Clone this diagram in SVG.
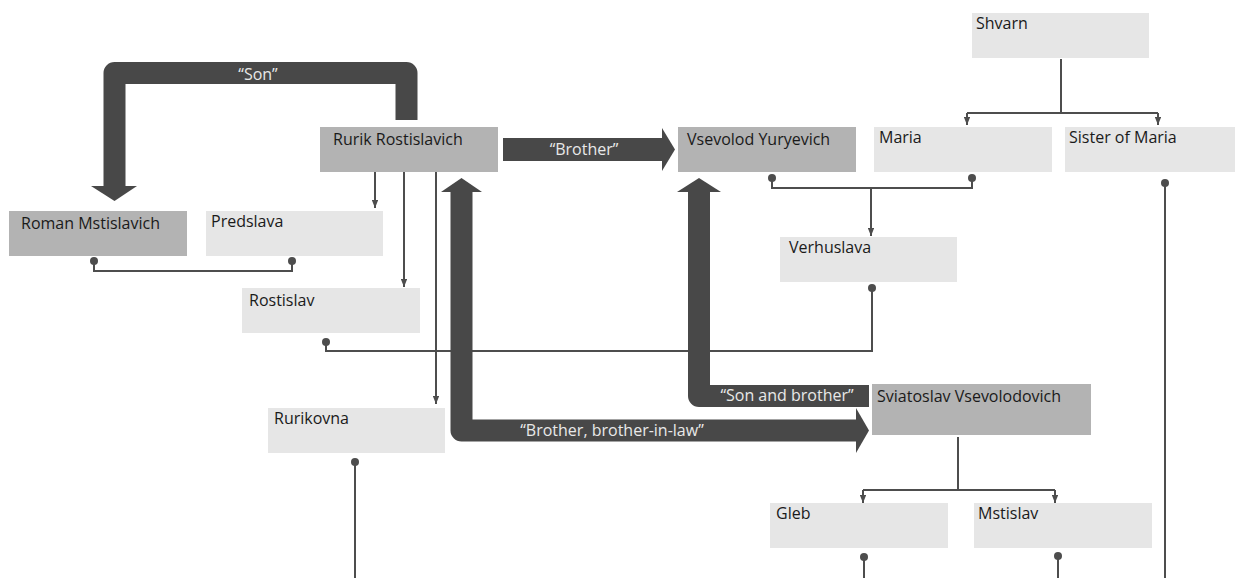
<svg xmlns="http://www.w3.org/2000/svg" width="1235" height="578" viewBox="0 0 1235 578">
<defs>
<marker id="ah" viewBox="0 0 10 8" refX="10" refY="4" markerWidth="8" markerHeight="6.4" markerUnits="userSpaceOnUse" orient="auto"><path d="M0,0 L10,4 L0,8 Z" fill="#4d4d4d"/></marker>
<marker id="dot" viewBox="0 0 8 8" refX="4" refY="4" markerWidth="8" markerHeight="8" markerUnits="userSpaceOnUse"><circle cx="4" cy="4" r="4" fill="#4d4d4d"/></marker>
</defs>
<style>
.dk{fill:#b3b3b3}
.lt{fill:#e6e6e6}
.nt{font-family:"Open Sans","Noto Sans",sans-serif;font-size:16px;fill:#1a1a1a}
.ln{fill:none;stroke:#4d4d4d;stroke-width:2}
.big{fill:none;stroke:#484848;stroke-width:22;stroke-linejoin:round;stroke-linecap:butt}
.hd{fill:#484848}
.lb{font-family:"Open Sans","Noto Sans",sans-serif;font-size:16px;fill:#e8e8e8;text-anchor:middle}
</style>
<rect width="1235" height="578" fill="#ffffff"/>

<g id="nodes">
<g id="n-shvarn"><rect class="lt" x="972" y="13" width="177" height="45"/><text class="nt" x="976" y="29">Shvarn</text></g>
<g id="n-rurik"><rect class="dk" x="320" y="127" width="178" height="45"/><text class="nt" x="333" y="145">Rurik Rostislavich</text></g>
<g id="n-vsevolod"><rect class="dk" x="678" y="127" width="178" height="45"/><text class="nt" x="687" y="145">Vsevolod Yuryevich</text></g>
<g id="n-maria"><rect class="lt" x="874" y="127" width="178" height="45"/><text class="nt" x="879" y="143">Maria</text></g>
<g id="n-sister"><rect class="lt" x="1065" y="127" width="178" height="45"/><text class="nt" x="1069" y="143">Sister of Maria</text></g>
<g id="n-roman"><rect class="dk" x="9" y="211" width="178" height="45"/><text class="nt" x="21" y="229">Roman Mstislavich</text></g>
<g id="n-predslava"><rect class="lt" x="206" y="211" width="177" height="45"/><text class="nt" x="211" y="227">Predslava</text></g>
<g id="n-verhuslava"><rect class="lt" x="780" y="237" width="177" height="45"/><text class="nt" x="789" y="253">Verhuslava</text></g>
<g id="n-rostislav"><rect class="lt" x="242" y="288" width="178" height="45"/><text class="nt" x="249" y="306">Rostislav</text></g>
<g id="n-rurikovna"><rect class="lt" x="268" y="408" width="177" height="45"/><text class="nt" x="274" y="424">Rurikovna</text></g>
<g id="n-sviatoslav"><rect class="dk" x="872" y="384" width="219" height="51"/><text class="nt" x="877" y="402">Sviatoslav Vsevolodovich</text></g>
<g id="n-gleb"><rect class="lt" x="770" y="503" width="178" height="45"/><text class="nt" x="776" y="519">Gleb</text></g>
<g id="n-mstislav"><rect class="lt" x="974" y="503" width="178" height="45"/><text class="nt" x="978" y="519">Mstislav</text></g>
</g>

<g id="connectors">
<path class="ln" d="M375,172 V208" marker-end="url(#ah)"/>
<path class="ln" d="M404,172 V287" marker-end="url(#ah)"/>
<path class="ln" d="M436,172 V404" marker-end="url(#ah)"/>
<path class="ln" d="M94,261 V271 H292 V261" marker-start="url(#dot)" marker-end="url(#dot)"/>
<path class="ln" d="M772,178 V188 H972 V178" marker-start="url(#dot)" marker-end="url(#dot)"/>
<path class="ln" d="M871,188 V236" marker-end="url(#ah)"/>
<path class="ln" d="M1061,59 V113"/>
<path class="ln" d="M967,113 H1158"/>
<path class="ln" d="M967,113 V125" marker-end="url(#ah)"/>
<path class="ln" d="M1158,113 V125" marker-end="url(#ah)"/>
<path class="ln" d="M326,342 V351 H872 V288" marker-start="url(#dot)" marker-end="url(#dot)"/>
<path class="ln" d="M355,462 V578" marker-start="url(#dot)"/>
<path class="ln" d="M1165,183 V578" marker-start="url(#dot)"/>
<path class="ln" d="M958,437 V490"/>
<path class="ln" d="M863,490 H1055"/>
<path class="ln" d="M863,490 V503" marker-end="url(#ah)"/>
<path class="ln" d="M1055,490 V503" marker-end="url(#ah)"/>
<path class="ln" d="M864,557 V578" marker-start="url(#dot)"/>
<path class="ln" d="M1058,556 V578" marker-start="url(#dot)"/>

<g id="e-son">
<path class="big" d="M406.5,120 V73 H114.5 V187"/>
<polygon class="hd" points="91,186 137,186 114.5,201"/>
<text class="lb" x="258" y="80">“Son”</text>
</g>
<g id="e-brother">
<rect class="hd" x="503" y="138" width="160" height="23"/>
<polygon class="hd" points="662,128 662,171 675,149.5"/>
<text class="lb" x="584" y="155">“Brother”</text>
</g>
<g id="e-brother-in-law">
<path class="big" d="M461.5,191 V430.5 H857"/>
<polygon class="hd" points="441,192 482,192 461.5,178"/>
<polygon class="hd" points="856,408 856,453 869,430.5"/>
<text class="lb" x="612" y="436">“Brother, brother-in-law”</text>
</g>
<g id="e-son-and-brother">
<path class="big" d="M699,191 V396 H869"/>
<polygon class="hd" points="677,192 721,192 699,178"/>
<text class="lb" x="787" y="401">“Son and brother”</text>
</g>
</g>
</svg>
